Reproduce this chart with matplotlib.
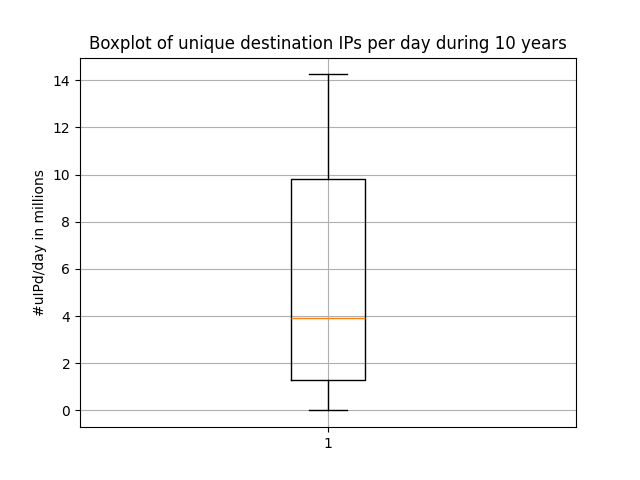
import matplotlib
matplotlib.use("Agg")
import matplotlib.pyplot as plt

# boxplot summary (millions of unique destination IPs per day)
labels = ["1"]
whislo = [0.0]
q1 = [1.28]
med = [3.9]
q3 = [9.8]
whishi = [14.25]

stats = []
for i in range(len(labels)):
    stats.append({
        "label": labels[i],
        "whislo": whislo[i],
        "q1": q1[i],
        "med": med[i],
        "q3": q3[i],
        "whishi": whishi[i],
        "fliers": [],
    })

fig, ax = plt.subplots(figsize=(6.4, 4.8), dpi=100)
ax.bxp(stats)
ax.set_title("Boxplot of unique destination IPs per day during 10 years")
ax.set_ylabel("#uIPd/day in millions")
ax.grid(True)

fig.savefig("out.png")
